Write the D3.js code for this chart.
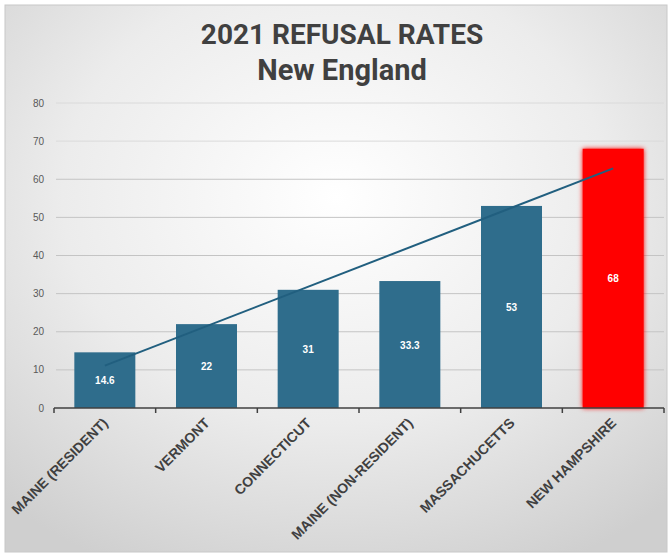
<!DOCTYPE html>
<html>
<head>
<meta charset="utf-8">
<script src="https://cdn.jsdelivr.net/npm/d3@7"></script>
<style>
  body { margin: 0; background: #fff; }
</style>
</head>
<body>
<div id="chart"></div>
<script>
var categories = ["MAINE (RESIDENT)", "VERMONT", "CONNECTICUT", "MAINE (NON-RESIDENT)", "MASSACHUCETTS", "NEW HAMPSHIRE"];
var values = [14.6, 22, 31, 33.3, 53, 68];
var labels = ["14.6", "22", "31", "33.3", "53", "68"];
var yTicks = [0, 10, 20, 30, 40, 50, 60, 70, 80];

var W = 669, H = 557;
var margin = { top: 103, right: 5, bottom: 149, left: 54 },
    width = 664 - margin.left,
    height = H - margin.top - margin.bottom;

var svg = d3.select("#chart").append("svg")
    .attr("width", W)
    .attr("height", H);

var defs = svg.append("defs");
var grad = defs.append("radialGradient")
    .attr("id", "bg")
    .attr("cx", "50%").attr("cy", "35%").attr("r", "75%");
grad.append("stop").attr("offset", "0%").attr("stop-color", "#ffffff");
grad.append("stop").attr("offset", "55%").attr("stop-color", "#ececec");
grad.append("stop").attr("offset", "100%").attr("stop-color", "#cfcfcf");

var glow = defs.append("filter").attr("id", "glow")
    .attr("x", "-20%").attr("y", "-10%").attr("width", "140%").attr("height", "120%");
glow.append("feGaussianBlur").attr("in", "SourceGraphic").attr("stdDeviation", 2.5).attr("result", "b");
var merge = glow.append("feMerge");
merge.append("feMergeNode").attr("in", "b");
merge.append("feMergeNode").attr("in", "SourceGraphic");

// background + frame
svg.append("rect")
    .attr("x", 5).attr("y", 5).attr("width", W - 7).attr("height", H - 10)
    .attr("fill", "url(#bg)")
    .attr("stroke", "#c8c8c8").attr("stroke-width", 1);

// titles
svg.append("text")
    .attr("x", 342).attr("y", 44)
    .attr("text-anchor", "middle")
    .attr("font-family", "Roboto, 'Liberation Sans', sans-serif")
    .attr("font-weight", "bold")
    .attr("font-size", "28px")
    .attr("fill", "#404040")
    .text("2021 REFUSAL RATES");
svg.append("text")
    .attr("x", 342).attr("y", 80)
    .attr("text-anchor", "middle")
    .attr("font-family", "Roboto, 'Liberation Sans', sans-serif")
    .attr("font-weight", "bold")
    .attr("font-size", "29px")
    .attr("fill", "#404040")
    .text("New England");

var g = svg.append("g")
    .attr("transform", "translate(" + margin.left + "," + margin.top + ")");

var x = d3.scaleBand().range([0, width]).domain(categories).paddingInner(0.4).paddingOuter(0.2);
var y = d3.scaleLinear().range([height, 0]).domain([0, 80]);

// gridlines
g.selectAll(".grid")
    .data(yTicks.slice(1))
    .enter()
    .append("line")
    .attr("x1", 2).attr("x2", width)
    .attr("y1", function (d) { return y(d) })
    .attr("y2", function (d) { return y(d) })
    .attr("stroke", function (d) { return d >= 70 ? "#dadada" : "#c4c4c4" })
    .attr("stroke-width", 1);

// y labels
g.selectAll(".ylab")
    .data(yTicks)
    .enter()
    .append("text")
    .attr("x", -10)
    .attr("y", function (d) { return y(d) + 3.5 })
    .attr("text-anchor", "end")
    .attr("font-family", "'Liberation Sans', Arial, sans-serif")
    .attr("font-size", "10px")
    .attr("fill", "#595959")
    .text(function (d) { return d });

// bars
g.selectAll(".bar")
    .data(values)
    .enter()
    .append("rect")
    .attr("x", function (d, i) { return x(categories[i]) })
    .attr("y", function (d) { return y(d) })
    .attr("width", x.bandwidth())
    .attr("height", function (d) { return height - y(d) })
    .attr("fill", function (d, i) { return i == values.length - 1 ? "#ff0000" : "#2f6d8c" })
    .attr("filter", function (d, i) { return i == values.length - 1 ? "url(#glow)" : null });

// value labels
g.selectAll(".val")
    .data(values)
    .enter()
    .append("text")
    .attr("x", function (d, i) { return x(categories[i]) + x.bandwidth() / 2 })
    .attr("y", function (d) { return (y(d) + height) / 2 + 4 })
    .attr("text-anchor", "middle")
    .attr("font-family", "'Liberation Sans', Arial, sans-serif")
    .attr("font-weight", "bold")
    .attr("font-size", "10px")
    .attr("fill", "#ffffff")
    .text(function (d, i) { return labels[i] });

// linear trendline
var n = values.length;
var xs = d3.range(1, n + 1);
var mx = d3.mean(xs), my = d3.mean(values);
var slope = d3.sum(xs, function (v, i) { return (v - mx) * (values[i] - my) }) / d3.sum(xs, function (v) { return (v - mx) * (v - mx) });
var icpt = my - slope * mx;
var trend = [1, n].map(function (k) { return [categories[k - 1], icpt + slope * k] });
g.append("path")
    .datum(trend)
    .attr("fill", "none")
    .attr("stroke", "#215f7f")
    .attr("stroke-width", 2)
    .attr("d", d3.line()
        .x(function (d) { return x(d[0]) + x.bandwidth() / 2 })
        .y(function (d) { return y(d[1]) }));

// x axis
g.append("line")
    .attr("x1", 0).attr("x2", width)
    .attr("y1", height).attr("y2", height)
    .attr("stroke", "#404040").attr("stroke-width", 1.5);
g.selectAll(".tick")
    .data(d3.range(categories.length + 1))
    .enter()
    .append("line")
    .attr("x1", function (d) { return d * width / categories.length })
    .attr("x2", function (d) { return d * width / categories.length })
    .attr("y1", height).attr("y2", height + 5)
    .attr("stroke", "#404040").attr("stroke-width", 1.5);

g.selectAll(".xlab")
    .data(categories)
    .enter()
    .append("text")
    .attr("transform", function (d) {
        return "translate(" + (x(d) + x.bandwidth() / 2 + 4) + "," + (height + 16) + ") rotate(-45)";
    })
    .attr("text-anchor", "end")
    .attr("font-family", "'Liberation Sans', Arial, sans-serif")
    .attr("font-weight", "bold")
    .attr("font-size", "14px")
    .attr("fill", "#404040")
    .text(function (d) { return d });
</script>
</body>
</html>
